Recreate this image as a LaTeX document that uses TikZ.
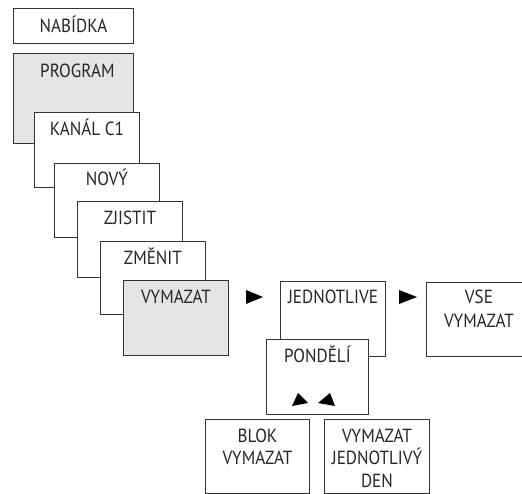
\documentclass[tikz,border=0pt]{standalone}
\usepackage{fontspec}
\setmainfont[FakeStretch=0.9]{PT Sans}
\usetikzlibrary{calc}
\begin{document}
\begin{tikzpicture}[x=1pt,y=-1pt,
  box/.style={draw=black!80, line width=0.9pt, fill=white, anchor=north west, inner sep=0pt, minimum width=#1},
  box/.default=105pt,
  graybox/.style={box=#1, fill=black!10},
  graybox/.default=105pt,
  lbl/.style={anchor=base, inner sep=0pt, font=\fontsize{19}{22}\selectfont, text=black!85},
  tri/.style={fill=black, draw=none}]
\useasboundingbox (0,0) rectangle (522,494);
% menu column
\node[box=120pt, minimum height=35pt] (nab) at (13,8) {};
\node[lbl] (tnab) at ($(nab.north)+(0,25)$) {NABÍDKA};
\node[graybox=120pt, minimum height=90pt] (prog) at (13,53) {};
\node[lbl] (tprog) at ($(prog.north)+(4,25)$) {PROGRAM};
\node[box, minimum height=75pt] (kan) at (34,112) {};
\node[lbl] (tkan) at ($(kan.north)+(0,23.5)$) {KANÁL C1};
\node[box, minimum height=74pt] (novy) at (54,163) {};
\node[lbl] (tnovy) at ($(novy.north)+(0,23)$) {NOVÝ};
\node[box, minimum height=76pt] (zji) at (77,201) {};
\node[lbl] (tzji) at ($(zji.north)+(0,23.5)$) {ZJISTIT};
\node[box, minimum height=73pt] (zme) at (100,241) {};
\node[lbl] (tzme) at ($(zme.north)+(0,24)$) {ZMĚNIT};
\node[graybox, minimum height=75pt] (vym) at (123,280) {};
\node[lbl] (tvym) at ($(vym.north)+(0,23.5)$) {VYMAZAT};
% right side
\node[box, minimum height=75pt] (jed) at (280,281) {};
\node[lbl] (tjed) at ($(jed.north)+(0,23)$) {JEDNOTLIVE};
\node[box, minimum height=74pt] (vse) at (426,282) {};
\node[lbl] (tvse1) at ($(vse.north)+(0,22)$) {VSE};
\node[lbl] (tvse2) at ($(vse.north)+(0,45)$) {VYMAZAT};
\node[box=102pt, minimum height=75pt] (pon) at (266,339) {};
\node[lbl] (tpon) at ($(pon.north)+(0,23)$) {PONDĚLÍ};
\node[box=104pt, minimum height=74pt] (blok) at (205,419) {};
\node[lbl] (tblok1) at ($(blok.north)+(0,23)$) {BLOK};
\node[lbl] (tblok2) at ($(blok.north)+(0,45.5)$) {VYMAZAT};
\node[box=105pt, minimum height=74pt] (den) at (324,419) {};
\node[lbl] (tden1) at ($(den.north)+(0,23)$) {VYMAZAT};
\node[lbl] (tden2) at ($(den.north)+(0,45.5)$) {JEDNOTLIVÝ};
\node[lbl] (tden3) at ($(den.north)+(0,68)$) {DEN};
% arrowheads
\fill[tri] (246,290) -- (263,297) -- (246,304) -- cycle;
\fill[tri] (399,290) -- (417,297) -- (399,304) -- cycle;
\fill[tri] (298,393) -- (308,403) -- (292,406) -- cycle;
\fill[tri] (330,393) -- (335,406) -- (318,403) -- cycle;
\end{tikzpicture}
\end{document}
